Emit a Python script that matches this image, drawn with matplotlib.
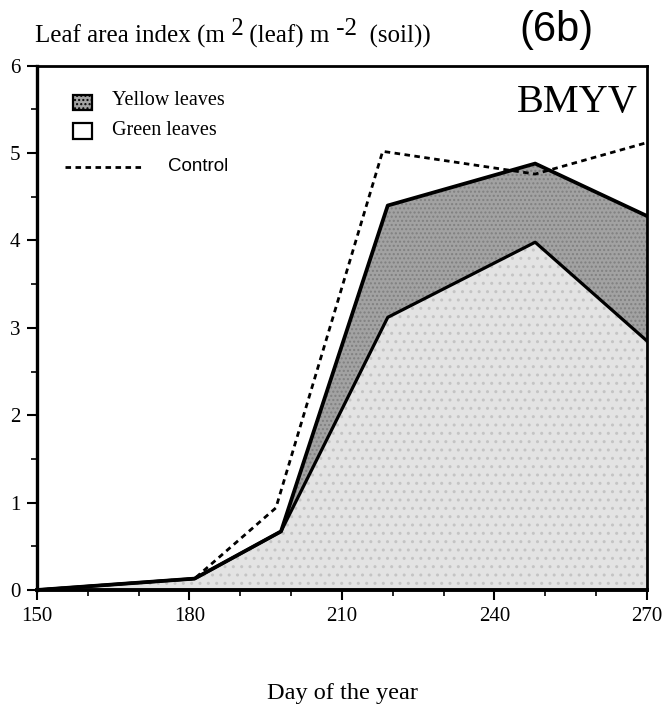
import matplotlib
matplotlib.use('Agg')
import matplotlib.pyplot as plt
from matplotlib.patches import Rectangle

days = [150, 181, 198, 219, 248, 270]
total_lai = [0.0, 0.13, 0.67, 4.40, 4.88, 4.28]   # yellow + green
green_lai = [0.0, 0.13, 0.67, 3.12, 3.98, 2.85]
control_days = [150, 181, 197, 218, 248, 270]
control_lai = [0.0, 0.13, 0.94, 5.02, 4.76, 5.12]

serif = 'Liberation Serif'
yellow_fc = '#a2a2a2'
green_fc = '#e3e3e3'

fig = plt.figure(figsize=(6.69, 7.08), dpi=100)
ax = fig.add_axes([0.0553, 0.1667, 0.9118, 0.7405])

# green leaves area and yellow band on top of it
ax.fill_between(days, 0, green_lai, facecolor=green_fc, edgecolor='#c4c4c4',
                linewidth=0, hatch='..', zorder=1)
ax.fill_between(days, green_lai, total_lai, facecolor=yellow_fc, edgecolor='#808080',
                linewidth=0, hatch='....', zorder=1)
ax.plot(days, green_lai, color='black', lw=2.3, zorder=3)
ax.plot(days, total_lai, color='black', lw=2.7, zorder=3)
ax.plot(control_days, control_lai, color='black', lw=2.0, ls=(0, (2, 1.6)), zorder=4)

ax.set_xlim(150, 270)
ax.set_ylim(0, 6)
ax.set_xticks([150, 180, 210, 240, 270])
ax.set_xticks(range(150, 271, 10), minor=True)
ax.set_yticks(range(0, 7))
ax.set_yticks([0.5, 1.5, 2.5, 3.5, 4.5, 5.5], minor=True)
ax.tick_params(which='major', direction='out', length=7, width=1.5, pad=5)
ax.tick_params(which='minor', direction='out', length=4, width=1.2)
for lab in ax.get_xticklabels() + ax.get_yticklabels():
    lab.set_fontfamily(serif)
    lab.set_fontsize(15)
for s in ax.spines.values():
    s.set_linewidth(2)
ax.spines['left'].set_linewidth(2.4)
ax.spines['bottom'].set_linewidth(2.8)

ax.set_xlabel('Day of the year', fontfamily=serif, fontsize=17.5, labelpad=41)

# title with full-size raised exponents, placed piece by piece
renderer = fig.canvas.get_renderer()
pieces = [('Leaf area index (m', 0.0), (' 2', 0.0113), (' (leaf) m', 0.0),
          (' -2', 0.0113), ('  (soil))', 0.0)]
x = 0.052
for s, dy in pieces:
    t = fig.text(x, 0.9393 + dy, s, fontfamily=serif, fontsize=18,
                 va='baseline', ha='left')
    x = t.get_window_extent(renderer).x1 / fig.bbox.width

fig.text(0.777, 0.957, '(6b)', fontfamily='Liberation Sans', fontsize=30,
         va='center', ha='left')
ax.text(0.985, 0.93, 'BMYV', transform=ax.transAxes, fontfamily=serif,
        fontsize=29, ha='right', va='center')

# legend drawn by hand to match the original layout
ax.add_patch(Rectangle((0.0585, 0.916), 0.031, 0.029, transform=ax.transAxes,
                       facecolor=yellow_fc, edgecolor='black', lw=1.6, hatch='....', zorder=5))
ax.add_patch(Rectangle((0.0585, 0.86), 0.031, 0.031, transform=ax.transAxes,
                       facecolor='white', edgecolor='black', lw=1.6, zorder=5))
ax.text(0.1225, 0.933, 'Yellow leaves', transform=ax.transAxes, fontfamily=serif,
        fontsize=14.5, va='center')
ax.text(0.1225, 0.876, 'Green leaves', transform=ax.transAxes, fontfamily=serif,
        fontsize=14.5, va='center')
ax.plot([0.046, 0.174], [0.806, 0.806], transform=ax.transAxes, color='black',
        lw=2.0, ls=(0, (2, 1.6)))
ax.text(0.215, 0.807, 'Control', transform=ax.transAxes, fontfamily='Liberation Sans',
        fontsize=13.5, va='center')

fig.savefig('out.png', dpi=100)
